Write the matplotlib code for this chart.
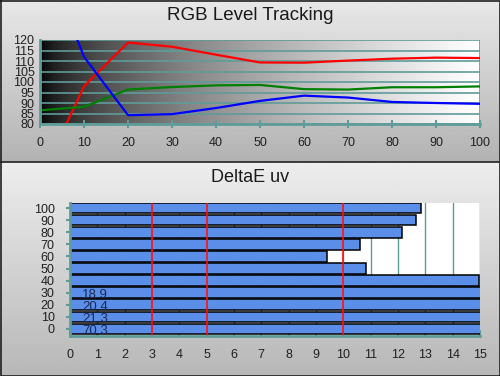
import numpy as np
import matplotlib
matplotlib.use("Agg")
import matplotlib.pyplot as plt
from matplotlib.lines import Line2D

plt.rcParams['font.family'] = ['Liberation Sans', 'DejaVu Sans']

# ---- data ----
levels = [0, 10, 20, 30, 40, 50, 60, 70, 80, 90, 100]
red = [53, 98, 118.8, 116.8, 113, 109.3, 109.2, 110.2, 111.1, 111.6, 111.4]
green = [86.5, 88.2, 96.4, 97.6, 98.4, 98.6, 96.6, 96.4, 97.5, 97.5, 97.9]
blue = [165, 112, 84.2, 84.7, 87.6, 91, 93.5, 92.6, 90.5, 90.0, 89.6]

de_levels = [0, 10, 20, 30, 40, 50, 60, 70, 80, 90, 100]
de_values = [70.3, 21.3, 20.4, 18.9, 14.98, 10.82, 9.39, 10.62, 12.16, 12.67, 12.83]
ref_lines = [3, 5, 10]

TEAL = '#5f9c98'
W, H = 500, 376
fig = plt.figure(figsize=(5, 3.76), dpi=100)

# ---- panel backgrounds ----
bg = fig.add_axes([0, 0, 1, 1])
bg.set_xlim(0, W)
bg.set_ylim(H, 0)
bg.axis('off')
g1 = np.linspace(0.91, 0.70, 100).reshape(-1, 1)
bg.imshow(g1, cmap='gray', vmin=0, vmax=1, extent=[0, W, 162, 0], aspect='auto')
g2 = np.linspace(0.93, 0.72, 100).reshape(-1, 1)
bg.imshow(g2, cmap='gray', vmin=0, vmax=1, extent=[0, W, H, 162], aspect='auto')
bg.set_xlim(0, W)
bg.set_ylim(H, 0)
for ln in [([0.5, W - 0.5, W - 0.5, 0.5, 0.5], [0.5, 0.5, H - 0.5, H - 0.5, 0.5]),
           ([0, W], [162, 162])]:
    bg.add_line(Line2D(ln[0], ln[1], color='#202020', lw=1.2))

fig.text(0.5, 1 - 15.5 / H, 'RGB Level Tracking', ha='center', va='center',
         fontsize=13.5, color='#1a1a1a')
fig.text(0.5, 1 - 177 / H, 'DeltaE uv', ha='center', va='center',
         fontsize=13, color='#1a1a1a')

# ---- top chart ----
ax1 = fig.add_axes([40 / W, 1 - 124 / H, 440 / W, 84 / H])
xs = np.linspace(0, 100, 300)
grad = ((xs / 100) ** 0.6).reshape(1, -1)
ax1.imshow(grad, cmap='gray', vmin=0, vmax=1, extent=[0, 100, 80, 120],
           aspect='auto', zorder=0)
ax1.plot(levels, red, color='#ff0000', lw=1.6, zorder=3)
ax1.plot(levels, green, color='#008000', lw=1.6, zorder=3)
ax1.plot(levels, blue, color='#0000ff', lw=1.6, zorder=3)
ax1.set_xlim(0, 100)
ax1.set_ylim(80, 120)
ax1.set_xticks(levels)
ax1.set_yticks(np.arange(80, 121, 5))
ax1.grid(axis='y', color=TEAL, lw=1.2, zorder=1)
for s in ['top', 'right']:
    ax1.spines[s].set_visible(False)
for s in ['left', 'bottom']:
    ax1.spines[s].set_color(TEAL)
    ax1.spines[s].set_linewidth(2)
    ax1.spines[s].set_zorder(4)
ax1.tick_params(axis='x', direction='inout', length=6, width=1.5, color=TEAL,
                labelsize=9, pad=6, labelcolor='#202020')
ax1.tick_params(axis='y', length=0, labelsize=9, pad=4, labelcolor='#202020')
ax1.axvline(100, color=TEAL, lw=1.2, zorder=1)

# ---- bottom chart ----
ax2 = fig.add_axes([70 / W, 1 - 336 / H, 410 / W, 133 / H])
ax2.set_facecolor('white')
ypos = np.arange(len(de_levels))
ax2.barh(ypos, de_values, height=0.88, color='#5b8ee8', edgecolor='black',
         lw=1.1, zorder=2)
for y, v in zip(ypos, de_values):
    if v > 15:
        ax2.text(0.45, y - 0.15, f'{v:.1f}', ha='left', va='center',
                 fontsize=9.5, color='#1a2a5a', zorder=4)
for r in ref_lines:
    ax2.axvline(r, color='#ff1010', lw=1.2, zorder=3)
ax2.set_xlim(0, 15)
ax2.set_ylim(-0.58, 10.42)
ax2.set_xticks(range(0, 16))
ax2.set_yticks(ypos)
ax2.set_yticklabels([str(v) for v in de_levels])
ax2.grid(axis='x', color=TEAL, lw=1.0, zorder=1)
for s in ['top', 'right']:
    ax2.spines[s].set_visible(False)
for s in ['left', 'bottom']:
    ax2.spines[s].set_color(TEAL)
    ax2.spines[s].set_linewidth(2)
    ax2.spines[s].set_zorder(4)
ax2.tick_params(axis='x', direction='in', length=4, width=1.5, color=TEAL,
                labelsize=9, pad=9, labelcolor='#202020')
ax2.tick_params(axis='y', direction='out', length=3, width=1.5, color=TEAL,
                labelsize=9, pad=8, labelcolor='#202020')

fig.savefig('out.png', dpi=100)
